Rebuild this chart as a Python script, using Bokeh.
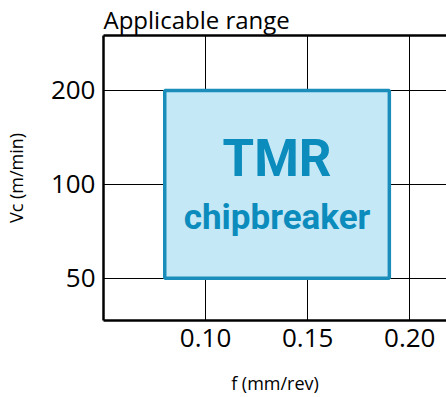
from bokeh.plotting import figure
from bokeh.models import Range1d, FixedTicker, LinearAxis, Label, NumeralTickFormatter
from bokeh.embed import file_html
from bokeh.resources import INLINE

# data
f_range = [0.08, 0.19]          # feed range (mm/rev)
vc_range = [50, 200]            # cutting speed range (m/min)
x_ticks = [0.10, 0.15, 0.20]
y_ticks = [50, 100, 200]
y_tick_labels = ["50", "100", "200"]
title_text = "Applicable range"
x_label = "f (mm/rev)"
y_label = "Vc (m/min)"
box_line1 = "TMR"
box_line2 = "chipbreaker"

FONT = "Open Sans"
p = figure(width=446, height=397, output_backend="svg", toolbar_location=None,
           y_axis_type="log",
           x_range=Range1d(0.05, 0.218), y_range=Range1d(36.6, 300),
           min_border_left=101, min_border_right=0, min_border_top=33, min_border_bottom=76)
p.outline_line_color = None
p.background_fill_color = "white"

p.title.text = title_text
p.title.text_font = FONT
p.title.text_font_size = "24px"
p.title.text_font_style = "normal"
p.title.text_color = "black"
p.title.align = "left"
p.title.offset = 0
p.title.standoff = 0

# grid
p.xgrid.ticker = FixedTicker(ticks=x_ticks)
p.ygrid.ticker = FixedTicker(ticks=y_ticks)
for g in (p.xgrid, p.ygrid):
    g.grid_line_color = "black"
    g.grid_line_width = 1
    g.grid_line_alpha = 1

# axes
xa = p.xaxis[0]
xa.ticker = FixedTicker(ticks=x_ticks)
xa.formatter = NumeralTickFormatter(format="0.00")
ya = p.yaxis[0]
ya.ticker = FixedTicker(ticks=y_ticks)
ya.major_label_overrides = {t: l for t, l in zip(y_ticks, y_tick_labels)}
for a in (xa, ya):
    a.axis_line_width = 2.5
    a.axis_line_color = "black"
    a.major_tick_out = 0
    a.major_tick_in = 0
    a.minor_tick_out = 0
    a.minor_tick_in = 0
    a.major_label_text_font = FONT
    a.major_label_text_font_size = "26px"
    a.major_label_text_color = "black"
    a.axis_label_text_font = FONT
    a.axis_label_text_font_size = "18px"
    a.axis_label_text_font_style = "normal"
    a.axis_label_text_color = "black"
xa.axis_label = x_label
ya.axis_label = y_label
xa.major_label_standoff = 8
ya.major_label_standoff = 8
xa.axis_label_standoff = 21
ya.axis_label_standoff = 20

top = LinearAxis(ticker=FixedTicker(ticks=[]), axis_line_width=2.5, axis_line_color="black",
                 major_tick_out=0, major_tick_in=0, minor_tick_out=0, minor_tick_in=0,
                 major_label_text_font_size="0px")
p.add_layout(top, "above")

# box
p.quad(left=[f_range[0]], right=[f_range[1]], bottom=[vc_range[0]], top=[vc_range[1]],
       fill_color="#c5e8f7", line_color="#1a8dbb", line_width=3.5)

cx = sum(f_range) / 2
cy = (vc_range[0] * vc_range[1]) ** 0.5
p.add_layout(Label(x=cx, y=cy, y_offset=26, text=box_line1, text_align="center",
                   text_baseline="alphabetic", text_font="Roboto", text_font_style="bold",
                   text_font_size="51px", text_color="#0b8cbc"))
p.add_layout(Label(x=cx, y=cy, y_offset=-33, text=box_line2, text_align="center",
                   text_baseline="alphabetic", text_font="Roboto", text_font_style="bold",
                   text_font_size="35px", text_color="#0b8cbc"))

open("out.html", "w").write(file_html(p, INLINE))
